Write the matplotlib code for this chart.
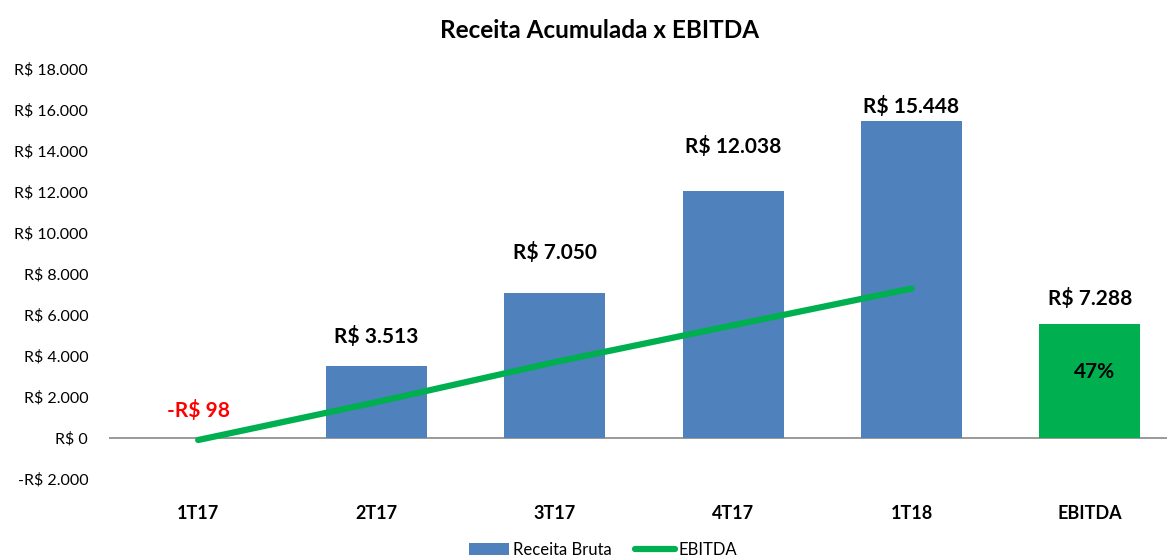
import matplotlib.pyplot as plt
import numpy as np

# data
categories = ['1T17', '2T17', '3T17', '4T17', '1T18', 'EBITDA']
receita = [0, 3513, 7050, 12038, 15448]
receita_labels = ['', 'R$ 3.513', 'R$ 7.050', 'R$ 12.038', 'R$ 15.448']
ebitda_line = [-98, 1750, 3700, 5500, 7288]
ebitda_bar = 5560
ebitda_bar_label = 'R$ 7.288'
ebitda_margin = '47%'
ebitda_first_label = '-R$ 98'
yticks = list(range(-2000, 18001, 2000))


def brl(v):
    s = f"{abs(v):,.0f}".replace(',', '.')
    return ('-R$ ' if v < 0 else 'R$ ') + s


plt.rcParams['font.family'] = ['Lato', 'DejaVu Sans']

W, H = 1167, 556
fig = plt.figure(figsize=(W / 100, H / 100), dpi=100)
ax = fig.add_axes([109 / W, (H - 479) / H, (1179 - 109) / W, 410 / H])

x = np.arange(len(categories))
bw = 0.565
blue = '#4F81BD'
green = '#00B050'

bars = ax.bar(x[:len(receita)], receita, width=bw, color=blue, zorder=2)
ax.bar(x[-1], ebitda_bar, width=bw, color=green, zorder=2)
line, = ax.plot(x[:len(ebitda_line)], ebitda_line, color=green, lw=4.5,
                solid_capstyle='round', zorder=3)

# value labels (offsets in px converted to points)
offsets = [0, 29, 41, 45, 15]
for i, (v, lab) in enumerate(zip(receita, receita_labels)):
    if lab:
        ax.annotate(lab, (x[i], v), xytext=(0, offsets[i] * 0.72), textcoords='offset points',
                    ha='center', va='center', fontsize=15, fontweight='bold', color='black')
ax.annotate(ebitda_first_label, (x[0], ebitda_line[0]), xytext=(0, 30 * 0.72),
            textcoords='offset points', ha='center', va='center',
            fontsize=15, fontweight='bold', color='#FF0000')
ax.annotate(ebitda_bar_label, (x[-1], ebitda_bar), xytext=(0, 26 * 0.72),
            textcoords='offset points', ha='center', va='center',
            fontsize=15, fontweight='bold', color='black')
ax.annotate(ebitda_margin, (x[-1], ebitda_bar), xytext=(5 * 0.72, -48 * 0.72),
            textcoords='offset points', ha='center', va='center',
            fontsize=15, fontweight='bold', color='black')

ax.set_xlim(-0.5, len(categories) - 0.5)
ax.set_ylim(-2000, 18000)
ax.set_yticks(yticks)
ax.set_yticklabels([brl(t) for t in yticks], fontsize=11.5)
ax.tick_params(axis='y', length=0, pad=15)
ax.set_xticks(x)
ax.set_xticklabels(categories, fontsize=13, fontweight='bold')
ax.tick_params(axis='x', length=0, pad=19)
for s in ax.spines.values():
    s.set_visible(False)
ax.axhline(0, color='#888888', lw=1.2, zorder=1)

fig.text(600 / W, 1 - 30 / H, 'Receita Acumulada x EBITDA', ha='center', va='center',
         fontsize=17.5, fontweight='bold')

fig.legend([bars, line], ['Receita Bruta', 'EBITDA'], loc='lower center',
           bbox_to_anchor=(603 / W, -0.03), ncol=2, frameon=False,
           fontsize=12, handlelength=2.4, columnspacing=1.4, handletextpad=0.2)

fig.savefig('out.png', dpi=100)
